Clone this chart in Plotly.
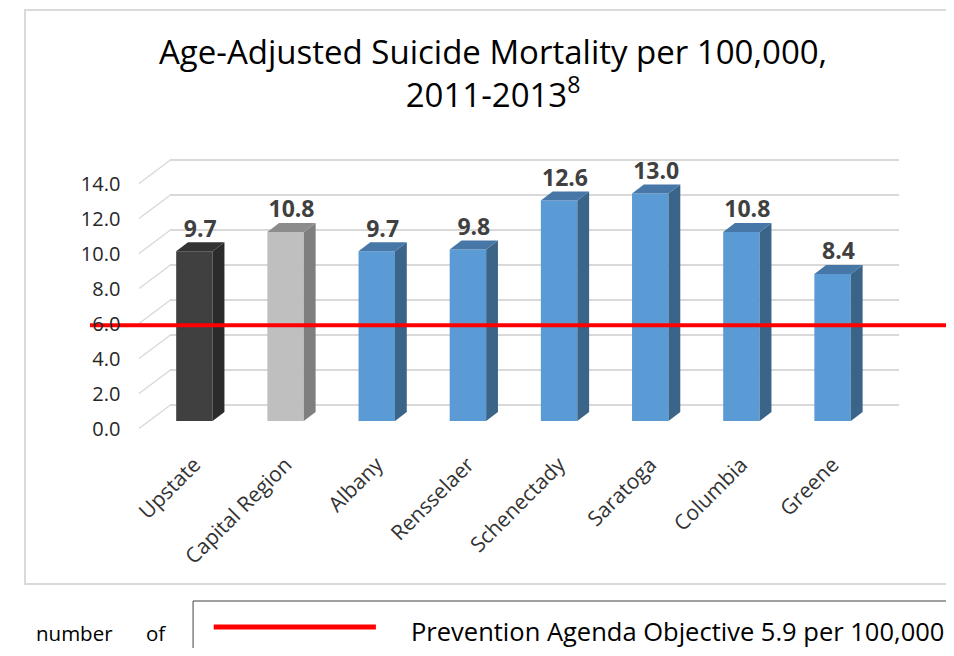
import plotly.graph_objects as go

categories = ["Upstate", "Capital Region", "Albany", "Rensselaer",
              "Schenectady", "Saratoga", "Columbia", "Greene"]
rates = [9.7, 10.8, 9.7, 9.8, 12.6, 13.0, 10.8, 8.4]
objective = 5.9
y_ticks = [0, 2, 4, 6, 8, 10, 12, 14]

front_colors = ["#404040", "#bfbfbf"] + ["#5b9bd5"] * 6
side_colors = ["#2b2b2b", "#7f7f7f"] + ["#3b6489"] * 6
top_colors = ["#333333", "#8c8c8c"] + ["#4677a7"] * 6

FONT = "Open Sans"
OFF = 8              # page margin around the plot div
W, H = 954 - 2 * OFF, 656 - 2 * OFF
PX = 17.5            # pixels per unit on every y axis
Y_RANGE = [-1.5, 16]
HALF = 0.2           # half bar width (category units)
DX = 12 / 92.75      # bar depth, category units
DY = 9 / PX          # bar depth, rate units
WALL_DY = 23.5 / PX  # side wall depth, rate units


# page pixel -> paper fraction
def px(x):
    return (x - OFF) / W


def py(y):
    return 1 - (y - OFF) / H


def y_domain(zero_px):
    return [py(zero_px - Y_RANGE[0] * PX), py(zero_px - Y_RANGE[1] * PX)]


fig = go.Figure()

# back wall (only there to get its gridlines)
fig.add_trace(go.Scatter(x=[], y=[], xaxis="x", yaxis="y",
                         showlegend=False, hoverinfo="skip"))

# bar front faces
x_pos = list(range(len(categories)))
fig.add_trace(go.Bar(x=x_pos, y=rates, width=2 * HALF, xaxis="x2", yaxis="y2",
                     marker=dict(color=front_colors, line=dict(width=0)),
                     showlegend=False, hoverinfo="skip"))

# side and top faces
for i, v in enumerate(rates):
    r = i + HALF
    l = i - HALF
    fig.add_trace(go.Scatter(
        x=[r, r + DX, r + DX, r, r], y=[0, DY, v + DY, v, 0],
        fill="toself", fillcolor=side_colors[i], mode="lines",
        line=dict(width=0, color=side_colors[i]),
        xaxis="x2", yaxis="y2", showlegend=False, hoverinfo="skip"))
    fig.add_trace(go.Scatter(
        x=[l, l + DX, r + DX, r, l], y=[v, v + DY, v + DY, v, v],
        fill="toself", fillcolor=top_colors[i], mode="lines",
        line=dict(width=0, color=top_colors[i]),
        xaxis="x2", yaxis="y2", showlegend=False, hoverinfo="skip"))

# data labels
fig.add_trace(go.Scatter(
    x=[i + DX / 2 for i in x_pos], y=[v + DY for v in rates],
    text=[f"{v:.1f}" for v in rates], mode="text", textposition="top center",
    textfont=dict(family=FONT, size=23, color="#404040", weight="bold"),
    xaxis="x2", yaxis="y2", showlegend=False, hoverinfo="skip", cliponaxis=False))

# objective line
fig.add_trace(go.Scatter(x=[0, 1], y=[objective, objective], mode="lines",
                         line=dict(color="#ff0000", width=4),
                         xaxis="x3", yaxis="y3", showlegend=False, hoverinfo="skip"))

# side wall lines
shapes = []
for v in y_ticks:
    shapes.append(dict(type="line", xref="paper", yref="y3",
                       x0=px(125), x1=px(157), y0=v, y1=v + WALL_DY,
                       line=dict(color="#d9d9d9", width=1.5), layer="below"))

# chart frame and legend box
shapes.append(dict(type="rect", xref="paper", yref="paper",
                   x0=px(9), x1=px(970), y0=py(584), y1=py(10),
                   line=dict(color="#d9d9d9", width=2)))
shapes.append(dict(type="rect", xref="paper", yref="paper",
                   x0=px(180), x1=px(970), y0=py(670), y1=py(601),
                   line=dict(color="#404040", width=1)))
shapes.append(dict(type="line", xref="paper", yref="paper",
                   x0=px(201), x1=px(366), y0=py(627), y1=py(627),
                   line=dict(color="#ff0000", width=5)))

annotations = [
    dict(text="Age-Adjusted Suicide Mortality per 100,000,<br>2011-2013<sup>8</sup>",
         x=px(485), y=py(73), xref="paper", yref="paper", xanchor="center",
         yanchor="middle", showarrow=False,
         font=dict(family=FONT, size=33, color="#000000")),
    dict(text=f"Prevention Agenda Objective {objective} per 100,000",
         x=px(400), y=py(631), xref="paper", yref="paper", xanchor="left",
         yanchor="middle", showarrow=False,
         font=dict(family=FONT, size=25.5, color="#000000")),
    dict(text="number", x=px(18), y=py(633), xref="paper", yref="paper",
         xanchor="left", yanchor="middle", showarrow=False,
         font=dict(family=FONT, size=20.5, color="#000000")),
    dict(text="of", x=px(130), y=py(633), xref="paper", yref="paper",
         xanchor="left", yanchor="middle", showarrow=False,
         font=dict(family=FONT, size=20.5, color="#000000")),
]

fig.update_layout(
    width=W, height=H,
    margin=dict(l=0, r=0, t=0, b=0),
    paper_bgcolor="white", plot_bgcolor="rgba(0,0,0,0)",
    shapes=shapes, annotations=annotations,
    xaxis=dict(domain=[px(157), px(898)], range=[0, 1], visible=False,
               anchor="y", fixedrange=True),
    yaxis=dict(domain=y_domain(405), range=Y_RANGE, anchor="x",
               tickvals=y_ticks, showticklabels=False, showgrid=True,
               gridcolor="#d9d9d9", gridwidth=1.5, zeroline=False,
               showline=False, ticks=""),
    xaxis2=dict(domain=[px(135), px(877)], range=[-0.5, 7.5], anchor="y2",
                tickvals=x_pos, ticktext=categories, tickangle=-45,
                showgrid=False, zeroline=False, showline=False, ticks="",
                tickfont=dict(family=FONT, size=21, color="#333333")),
    yaxis2=dict(domain=y_domain(421), range=Y_RANGE, anchor="x2",
                visible=False),
    xaxis3=dict(domain=[px(75), px(946)], range=[0, 1], anchor="y3",
                visible=False),
    yaxis3=dict(domain=y_domain(428.5), range=Y_RANGE, anchor="free",
                position=px(106), tickvals=y_ticks, tickformat=".1f",
                showgrid=False, zeroline=False, showline=False, ticks="",
                tickfont=dict(family=FONT, size=20, color="#262626")),
)

fig.write_html("out.html")
